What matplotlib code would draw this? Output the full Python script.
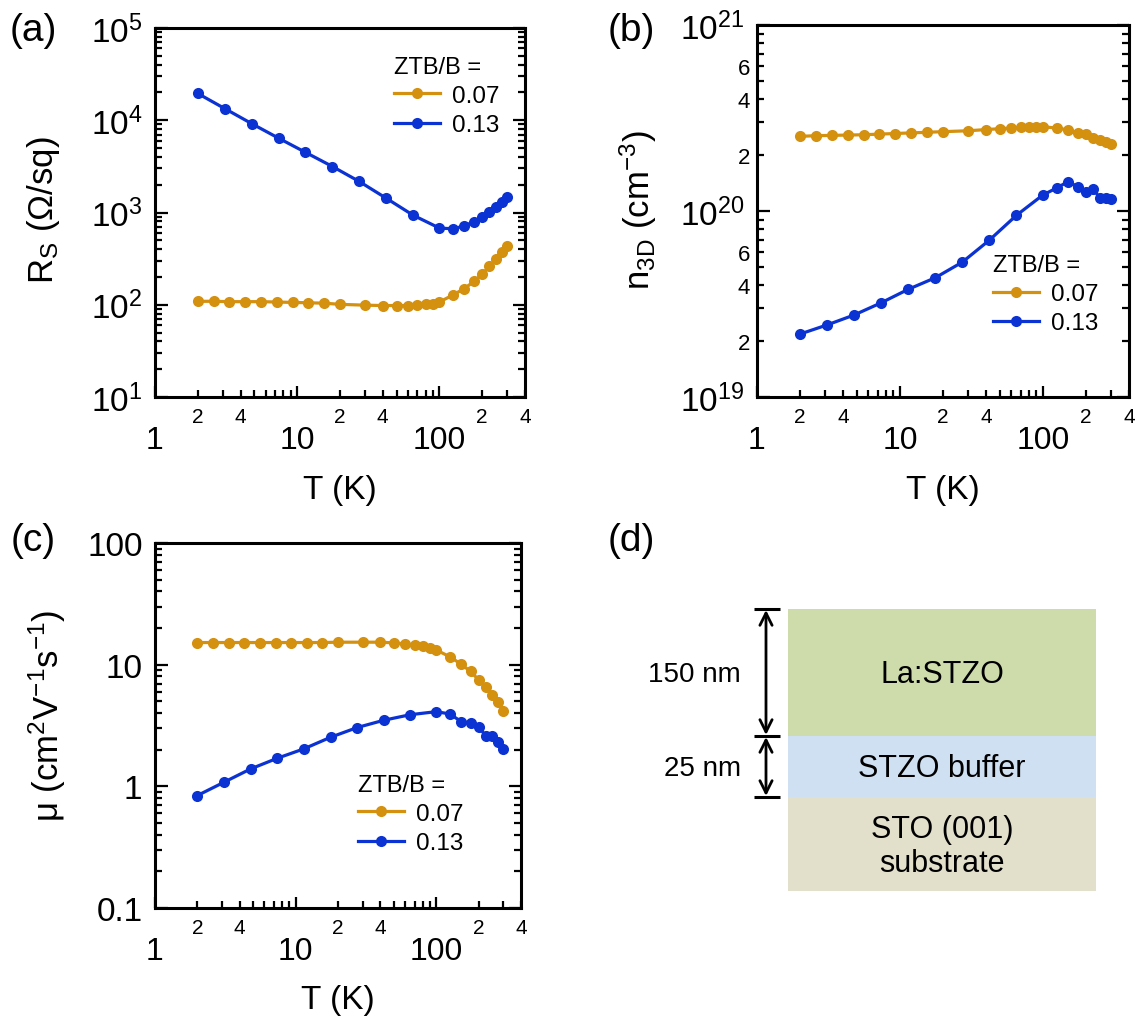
import numpy as np
import matplotlib
matplotlib.use("Agg")
import matplotlib.pyplot as plt
from matplotlib.ticker import FixedLocator, FuncFormatter, NullFormatter, LogFormatterSciNotation
from matplotlib.patches import Rectangle

plt.rcParams.update({
    "font.family": ["Liberation Sans", "DejaVu Sans"],
    "mathtext.fontset": "custom",
    "mathtext.rm": "Liberation Sans",
    "mathtext.it": "Liberation Sans:italic",
    "mathtext.bf": "Liberation Sans:bold",
    "axes.linewidth": 2.2,
    "figure.facecolor": "white",
})

W, H = 1147, 1020

ORANGE = "#d4900f"
BLUE = "#0b32d2"

# temperature points of the two samples (K)
T_007 = [2, 2.58, 3.34, 4.31, 5.57, 7.19, 9.28, 12.0, 15.5, 20, 30, 40, 50, 60, 70,
         80, 90, 100, 125, 150, 175, 200, 225, 250, 275, 300]
T_013 = [2, 3.09, 4.78, 7.39, 11.4, 17.7, 27.3, 42.2, 65.3, 100, 125, 150, 175,
         200, 225, 250, 275, 300]

# sheet resistance (Ohm/sq)
RS_007 = [109, 109, 108, 108, 108, 107, 106, 105, 104, 101, 99, 98, 98, 98, 99,
          101, 103, 107, 128, 150, 179, 215, 260, 313, 375, 428]
RS_013 = [19500, 13400, 9200, 6400, 4500, 3150, 2170, 1430, 935, 678, 666, 716,
          795, 895, 1020, 1160, 1305, 1465]

# 3D carrier density (cm^-3)
N_007 = [2.52e20, 2.54e20, 2.55e20, 2.56e20, 2.57e20, 2.59e20, 2.61e20, 2.63e20,
         2.65e20, 2.67e20, 2.70e20, 2.74e20, 2.77e20, 2.79e20, 2.82e20, 2.84e20,
         2.84e20, 2.84e20, 2.79e20, 2.73e20, 2.64e20, 2.59e20, 2.48e20, 2.42e20,
         2.36e20, 2.29e20]
N_013 = [2.18e19, 2.44e19, 2.76e19, 3.21e19, 3.79e19, 4.38e19, 5.31e19, 6.97e19,
         9.48e19, 1.22e20, 1.33e20, 1.44e20, 1.35e20, 1.26e20, 1.32e20, 1.17e20,
         1.17e20, 1.16e20]

# Hall mobility (cm^2 V^-1 s^-1)
MU_007 = [15.2, 15.2, 15.2, 15.2, 15.2, 15.2, 15.2, 15.2, 15.2, 15.3, 15.3, 15.3,
          15.1, 14.8, 14.5, 14.2, 13.8, 13.2, 11.6, 10.1, 8.8, 7.5, 6.5, 5.6, 4.9, 4.2]
MU_013 = [0.84, 1.08, 1.39, 1.70, 2.03, 2.53, 3.04, 3.49, 3.88, 4.11, 3.93, 3.41,
          3.32, 3.06, 2.61, 2.58, 2.30, 2.03]

SERIES_LABELS = ["0.07", "0.13"]
LEGEND_TITLE = "ZTB/B ="

# heterostructure stack, top to bottom
LAYER_NAMES = ["La:STZO", "STZO buffer", "STO (001)\nsubstrate"]
LAYER_COLORS = ["#cedcab", "#cfe0f3", "#e2dfcb"]
THICKNESS_LABELS = ["150 nm", "25 nm"]


def px_axes(left, top, right, bottom):
    return fig.add_axes([left / W, 1 - bottom / H, (right - left) / W, (bottom - top) / H])


def minor_digit(keep):
    def f(v, pos=None):
        m = int(round(v / 10 ** np.floor(np.log10(v) + 1e-9)))
        return str(m) if m in keep else ""
    return f


def style_log_axes(ax, ylim, ymajor, ymajor_fmt, ylabel_minor=False):
    ax.set_xscale("log")
    ax.set_yscale("log")
    ax.set_xlim(1, 400)
    ax.set_ylim(*ylim)

    ax.xaxis.set_major_locator(FixedLocator([1, 10, 100]))
    ax.xaxis.set_major_formatter(FuncFormatter(lambda v, p: f"{v:g}"))
    xminor = [m * 10 ** d for d in range(0, 3) for m in range(2, 10) if m * 10 ** d <= 400]
    ax.xaxis.set_minor_locator(FixedLocator(xminor))
    ax.xaxis.set_minor_formatter(FuncFormatter(minor_digit((2, 4))))

    ax.yaxis.set_major_locator(FixedLocator(ymajor))
    ax.yaxis.set_major_formatter(ymajor_fmt)
    lo, hi = np.log10(ylim[0]), np.log10(ylim[1])
    yminor = [m * 10.0 ** d for d in range(int(round(lo)), int(round(hi))) for m in range(2, 10)]
    ax.yaxis.set_minor_locator(FixedLocator(yminor))
    if ylabel_minor:
        ax.yaxis.set_minor_formatter(FuncFormatter(minor_digit((2, 4, 6))))
    else:
        ax.yaxis.set_minor_formatter(NullFormatter())

    ax.tick_params(axis="x", which="major", direction="in", length=8, width=1.6,
                   labelsize=23, pad=20, top=False)
    ax.tick_params(axis="x", which="minor", direction="in", length=5, width=1.6,
                   labelsize=15, pad=7, top=False)
    ax.tick_params(axis="y", which="major", direction="in", length=9, width=1.6,
                   labelsize=24, pad=9, left=True, right=True)
    ax.tick_params(axis="y", which="minor", direction="in", length=5, width=1.6,
                   labelsize=16, pad=5, left=True, right=True)

    ax.set_xlabel("T (K)", fontsize=24)
    ax.xaxis.label.set_va("center")
    ax.xaxis.set_label_coords(0.5, -0.25)


def draw_pair(ax, y007, y013, legend_xy):
    kw = dict(marker="o", ms=8, lw=2.3, mec="none")
    ax.plot(T_007, y007, color=ORANGE, label=SERIES_LABELS[0], **kw)
    ax.plot(T_013, y013, color=BLUE, label=SERIES_LABELS[1], **kw)
    leg = ax.legend(title=LEGEND_TITLE, loc="upper left", bbox_to_anchor=legend_xy,
                    frameon=False, fontsize=17.5, title_fontsize=17, alignment="left",
                    handlelength=1.9, handletextpad=0.5, labelspacing=0.3,
                    borderpad=0, borderaxespad=0, numpoints=1)
    return leg


def set_ylabel(ax, text, x, y):
    ax.set_ylabel(text, fontsize=25)
    ax.yaxis.label.set_va("center")
    ax.yaxis.set_label_coords(x, y)


fig = plt.figure(figsize=(W / 100, H / 100), dpi=100)

sci = LogFormatterSciNotation()

# (a) sheet resistance
ax_a = px_axes(155, 29, 525, 398)
style_log_axes(ax_a, (10, 1e5), [1e1, 1e2, 1e3, 1e4, 1e5], sci)
draw_pair(ax_a, RS_007, RS_013, (0.645, 0.925))
set_ylabel(ax_a, r"R$_\mathrm{S}$ ($\Omega$/sq)", -0.30, 0.51)

# (b) carrier density
ax_b = px_axes(757, 26, 1129, 398)
style_log_axes(ax_b, (1e19, 1e21), [1e19, 1e20, 1e21], sci, ylabel_minor=True)
draw_pair(ax_b, N_007, N_013, (0.634, 0.385))
set_ylabel(ax_b, r"n$_\mathrm{3D}$ (cm$^{-3}$)", -0.318, 0.505)

# (c) mobility
ax_c = px_axes(155, 544, 521, 909)
style_log_axes(ax_c, (0.1, 100), [0.1, 1, 10, 100],
               FuncFormatter(lambda v, p: f"{v:g}"))
draw_pair(ax_c, MU_007, MU_013, (0.555, 0.368))
set_ylabel(ax_c, "\u03bc (cm$^2$V$^{-1}$s$^{-1}$)", -0.295, 0.529)

# (d) layer stack, drawn in figure pixel units
ov = fig.add_axes([0, 0, 1, 1])
ov.set_xlim(0, W)
ov.set_ylim(H, 0)
ov.axis("off")

bounds = [610, 737, 798, 892]
x0, x1 = 788, 1096
for name, col, top, bot in zip(LAYER_NAMES, LAYER_COLORS, bounds[:-1], bounds[1:]):
    ov.add_patch(Rectangle((x0, top), x1 - x0, bot - top, color=col, lw=0))
    ov.text((x0 + x1) / 2, (top + bot) / 2 + 2, name, ha="center", va="center",
            fontsize=22, linespacing=1.2)

ax_arrow = 766
for lab, top, bot in zip(THICKNESS_LABELS, bounds[:2], bounds[1:3]):
    ov.annotate("", xy=(ax_arrow, top + 1), xytext=(ax_arrow, bot - 1),
                arrowprops=dict(arrowstyle="<->", lw=2.0, color="black",
                                mutation_scale=22, shrinkA=0, shrinkB=0))
    ov.text(741, (top + bot) / 2 + 2, lab, ha="right", va="center", fontsize=20)
for yb in bounds[:3]:
    ov.plot([754, 780], [yb, yb], color="black", lw=2.2, solid_capstyle="butt")

# panel letters
for lab, x, y in [("(a)", 10, 31), ("(b)", 608, 31), ("(c)", 11, 541), ("(d)", 608, 541)]:
    ov.text(x, y, lab, ha="left", va="center", fontsize=28)

fig.savefig("out.png", dpi=100)
